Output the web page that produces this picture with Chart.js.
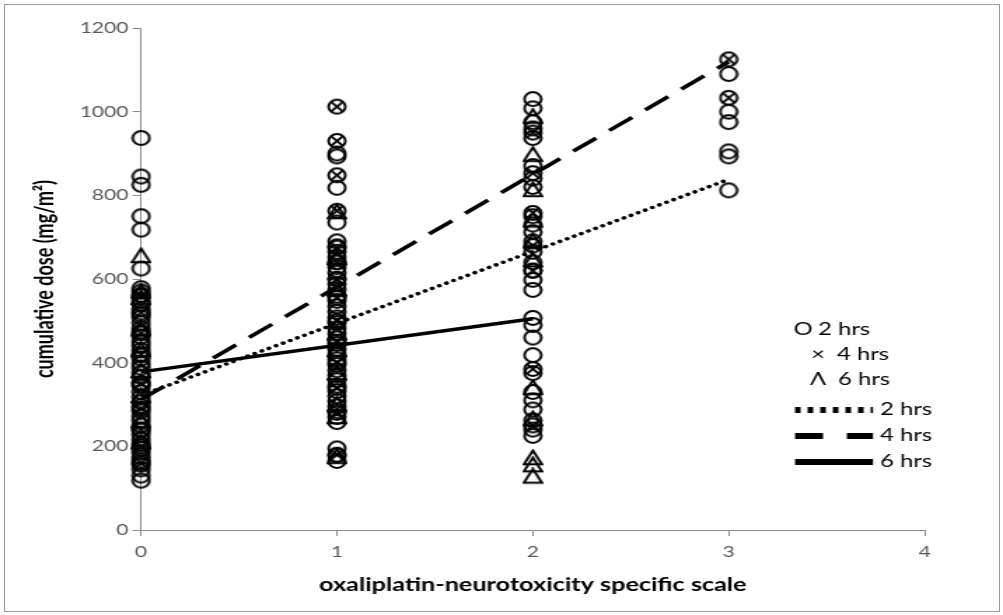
<!DOCTYPE html>
<html>
<head>
<meta charset="utf-8">
<script src="https://cdn.jsdelivr.net/npm/chart.js@4"></script>
<style>
  html, body { margin: 0; padding: 0; background: #fff; }
  #wrap { position: relative; width: 1003px; height: 615px; overflow: hidden; }
  #frame { position: absolute; left: 4px; top: 4px; width: 994px; height: 606px; border: 1px solid #9a9a9a; }
  #chart { position: absolute; left: 0; top: 0; }
</style>
</head>
<body>
<div id="wrap">
  <div id="frame"></div>
  <!-- drawn narrow and stretched sideways, like the source picture -->
  <canvas id="chart" width="716" height="615" style="width:1003px;height:615px"></canvas>
</div>
<script>
// tick labels
const xTicks = [0, 1, 2, 3, 4]
const yTicks = [0, 200, 400, 600, 800, 1000, 1200]

// cumulative dose per neurotoxicity grade, 2 hrs infusion
const dose2hAt0 = [937, 845, 825, 750, 718, 625, 578, 570, 562, 548, 540, 528, 515, 508, 495, 482, 474, 462, 450, 441, 430, 418, 410, 398, 388, 376, 366, 352, 344, 330, 318, 306, 296, 284, 272, 262, 250, 238, 228, 216, 206, 194, 185, 174, 166, 156, 145, 130, 118]
const dose2hAt1 = [900, 893, 818, 735, 690, 678, 665, 652, 640, 628, 615, 600, 588, 575, 560, 548, 535, 522, 508, 495, 482, 470, 458, 445, 432, 420, 408, 395, 382, 370, 358, 345, 332, 320, 308, 296, 284, 270, 258, 195, 178, 165]
const dose2hAt2 = [1030, 1008, 975, 960, 937, 870, 840, 820, 750, 730, 712, 690, 665, 640, 620, 598, 574, 507, 490, 460, 418, 375, 330, 310, 288, 262, 240, 225]
const dose2hAt3 = [1090, 1000, 975, 905, 893, 812]

// 4 hrs infusion
const dose4hAt0 = [560, 520, 470, 420, 350, 290, 240, 200, 160]
const dose4hAt1 = [1012, 930, 848, 763, 675, 640, 600, 555, 500, 450, 400, 340, 280, 180]
const dose4hAt2 = [950, 853, 758, 680, 620, 385, 250]
const dose4hAt3 = [1125, 1033]

// 6 hrs infusion
const dose6hAt0 = [655, 570, 555, 480, 430, 380, 320, 260, 210]
const dose6hAt1 = [760, 650, 575, 470, 430, 375, 300, 270, 175]
const dose6hAt2 = [988, 897, 813, 740, 690, 645, 340, 265, 172, 155, 128]

// linear trend lines: [grade, dose] at both ends
const trend2h = [[0, 322], [3, 838]]
const trend4h = [[0, 312], [3, 1119]]
const trend6h = [[0, 378], [2, 505]]

const legendLabels = ['2 hrs', '4 hrs', '6 hrs']

const SX = 1003 / 716  // sideways stretch of the canvas

function pts(grade, doses) {
  return doses.map(d => ({ x: grade, y: d }))
}
function line(pairs) {
  return pairs.map(p => ({ x: p[0], y: p[1] }))
}

// open markers, narrowed so they come out round-ish after the stretch
function marker(kind) {
  const c = document.createElement('canvas')
  c.width = 15; c.height = 18
  const g = c.getContext('2d')
  const cx = 7.5, cy = 9, rx = 6.0, ry = 7.0
  g.strokeStyle = '#000'
  g.lineWidth = 1.9
  if (kind !== 'tri') {
    g.beginPath(); g.ellipse(cx, cy, rx, ry, 0, 0, Math.PI * 2); g.stroke()
  }
  if (kind === 'x') {
    const a = rx * 0.75, b = ry * 0.72
    g.beginPath()
    g.moveTo(cx - a, cy - b); g.lineTo(cx + a, cy + b)
    g.moveTo(cx + a, cy - b); g.lineTo(cx - a, cy + b)
    g.stroke()
  }
  if (kind === 'tri') {
    g.beginPath()
    g.moveTo(cx, cy - ry - 0.5)
    g.lineTo(cx + rx + 0.5, cy + ry * 0.9)
    g.lineTo(cx - rx - 0.5, cy + ry * 0.9)
    g.closePath()
    g.stroke()
  }
  return c
}

const legendPlugin = {
  id: 'sideLegend',
  afterDraw(chart) {
    const ctx = chart.ctx
    ctx.save()
    ctx.fillStyle = '#000'
    ctx.strokeStyle = '#000'
    ctx.textBaseline = 'middle'
    ctx.textAlign = 'left'
    ctx.font = '17px Lato'
    const symRows = [['O', 803, 818, 330], ['\u00d7', 818, 837, 355], ['\u039b', 818, 838, 380]]
    symRows.forEach((r, i) => {
      ctx.textAlign = 'center'
      ctx.fillText(r[0], r[1] / SX, r[3])
      ctx.textAlign = 'left'
      ctx.fillText(legendLabels[i], r[2] / SX, r[3])
    })
    const x0 = 795 / SX, x1 = 873 / SX
    const lineRows = [[[4, 5], 410], [[20, 17], 436], [[], 462]]
    lineRows.forEach((r, i) => {
      ctx.lineWidth = 6
      ctx.setLineDash(r[0])
      ctx.beginPath(); ctx.moveTo(x0, r[1]); ctx.lineTo(x1, r[1]); ctx.stroke()
      ctx.setLineDash([])
      ctx.fillText(legendLabels[i], 880 / SX, r[1])
    })
    ctx.restore()
  }
}

const axisGrey = '#8c8c8c'
const tickFont = { family: 'Lato', size: 15 }
const titleFont = { family: 'Lato', size: 18, weight: 'bold' }

new Chart(document.getElementById('chart'), {
  type: 'scatter',
  plugins: [legendPlugin],
  data: {
    datasets: [
      {
        label: '2 hrs',
        data: [...pts(0, dose2hAt0), ...pts(1, dose2hAt1), ...pts(2, dose2hAt2), ...pts(3, dose2hAt3)],
        pointStyle: marker('o'), pointRadius: 7, clip: false, order: 5
      }, {
        label: '4 hrs',
        data: [...pts(0, dose4hAt0), ...pts(1, dose4hAt1), ...pts(2, dose4hAt2), ...pts(3, dose4hAt3)],
        pointStyle: marker('x'), pointRadius: 7, clip: false, order: 4
      }, {
        label: '6 hrs',
        data: [...pts(0, dose6hAt0), ...pts(1, dose6hAt1), ...pts(2, dose6hAt2)],
        pointStyle: marker('tri'), pointRadius: 7, clip: false, order: 3
      }, {
        label: '2 hrs trend',
        data: line(trend2h), showLine: true, pointRadius: 0,
        borderColor: '#000', borderWidth: 3.5, borderDash: [0.1, 5.6], borderCapStyle: 'round', order: 2
      }, {
        label: '4 hrs trend',
        data: line(trend4h), showLine: true, pointRadius: 0,
        borderColor: '#000', borderWidth: 3.5, borderDash: [21, 12], order: 1
      }, {
        label: '6 hrs trend',
        data: line(trend6h), showLine: true, pointRadius: 0,
        borderColor: '#000', borderWidth: 3.5, order: 0
      }
    ]
  },
  options: {
    responsive: false,
    devicePixelRatio: 1,
    animation: false,
    layout: { padding: { left: 10, right: 56, top: 28, bottom: 10 } },
    plugins: {
      legend: { display: false },
      tooltip: { enabled: false }
    },
    scales: {
      x: {
        type: 'linear',
        min: xTicks[0],
        max: xTicks[xTicks.length - 1],
        afterFit: (s) => { s.height = 75 },
        ticks: { stepSize: 1, color: '#595959', font: tickFont, padding: 7, callback: (v) => String(v) },
        grid: { drawOnChartArea: false, drawTicks: true, tickLength: 6, color: axisGrey },
        border: { color: axisGrey },
        title: { display: true, text: 'oxaliplatin-neurotoxicity specific scale', color: '#000', font: titleFont, padding: { bottom: 9 } }
      },
      y: {
        min: yTicks[0],
        max: yTicks[yTicks.length - 1],
        afterFit: (s) => { s.width = 90.7 },
        ticks: { stepSize: 200, color: '#595959', font: tickFont, padding: 3, callback: (v) => String(v) },
        grid: { drawOnChartArea: false, drawTicks: true, tickLength: 6, color: axisGrey },
        border: { color: axisGrey },
        title: { display: true, text: 'cumulative dose (mg/m\u00b2)', color: '#000', font: titleFont, padding: { top: 11 } }
      }
    }
  }
})
</script>
</body>
</html>
